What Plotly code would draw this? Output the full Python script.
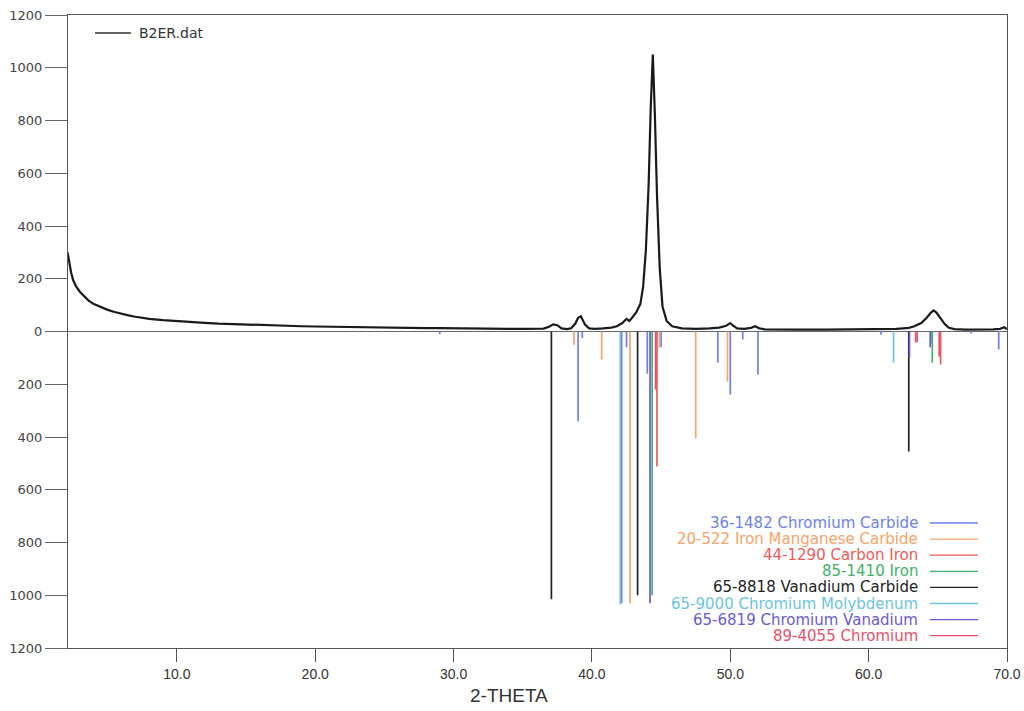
import plotly.graph_objects as go

# Measured scan B2ER.dat (2-theta in degrees, counts)
scan_2theta = [2.1, 2.2, 2.35, 2.5, 2.7, 3.0, 3.3, 3.6, 4.0, 4.5,
               5.0, 5.5, 6.0, 6.5, 7.0, 7.5, 8.0, 9.0, 10.0, 11.0,
               12.0, 13.0, 14.0, 15.0, 16.0, 17.0, 18.0, 19.0, 20.0, 21.0,
               22.0, 23.0, 24.0, 25.0, 26.0, 27.0, 28.0, 29.0, 30.0, 31.0,
               32.0, 33.0, 34.0, 35.0, 36.0, 36.5, 36.9, 37.2, 37.5, 37.8,
               38.2, 38.5, 38.8, 39.0, 39.2, 39.5, 39.8, 40.2, 40.8, 41.4,
               41.8, 42.2, 42.5, 42.7, 42.9, 43.2, 43.5, 43.7, 43.9, 44.1,
               44.25, 44.4, 44.55, 44.7, 44.9, 45.1, 45.4, 45.8, 46.5, 47.5,
               48.5, 49.2, 49.7, 50.0, 50.2, 50.5, 51.0, 51.5, 51.8, 52.1,
               52.5, 53.5, 55.0, 57.0, 59.0, 61.0, 62.0, 62.5, 62.9, 63.3,
               63.8, 64.2, 64.5, 64.7, 64.9, 65.2, 65.5, 65.8, 66.2, 67.0,
               68.0, 69.0, 69.5, 69.8, 70.0]
scan_counts = [300, 262, 225, 195, 172, 150, 132, 118, 104, 92,
               82, 74, 67, 61, 56, 52, 48, 43, 39, 36,
               33, 30, 28, 26, 24, 22, 21, 20, 19, 18,
               17, 17, 16, 15, 15, 14, 13, 13, 12, 12,
               11, 11, 10, 10, 10, 11, 18, 27, 24, 12,
               9, 12, 30, 52, 58, 26, 12, 10, 12, 15,
               20, 32, 48, 40, 52, 72, 105, 170, 310, 560,
               850, 1050, 820, 520, 240, 95, 40, 20, 12, 10,
               12, 15, 22, 32, 22, 12, 10, 14, 20, 12,
               8, 7, 7, 7, 8, 8, 10, 12, 14, 20,
               32, 52, 72, 80, 72, 50, 28, 14, 9, 7,
               7, 8, 10, 16, 9]
assert len(scan_2theta) == len(scan_counts)

# Reference patterns: peak positions (2-theta) and plotted depth
cr_carbide_pos = [29.0, 39.0, 39.3, 42.15, 42.5, 44.0, 45.0, 49.1, 50.0, 50.9, 52.0, 60.9, 64.5, 67.4, 69.4]
cr_carbide_int = [10, 340, 25, 1030, 60, 160, 60, 118, 240, 30, 163, 12, 45, 8, 68]
femn_carbide_pos = [38.7, 40.7, 42.75, 44.9, 47.5, 49.8]
femn_carbide_int = [50, 106, 1030, 60, 405, 190]
carbon_iron_pos = [44.7, 63.4, 65.2]
carbon_iron_int = [512, 42, 125]
iron_pos = [44.35, 64.6]
iron_int = [1000, 118]
vc_pos = [37.07, 43.3, 62.9]
vc_int = [1015, 1000, 455]
crmo_pos = [42.05, 61.8]
crmo_int = [1035, 118]
crv_pos = [44.2, 62.95, 64.45]
crv_int = [1030, 100, 60]
chromium_pos = [44.6, 63.5, 65.1]
chromium_int = [220, 40, 95]

phases = [
    ("36-1482 Chromium Carbide", "#6f7fe8", cr_carbide_pos, cr_carbide_int),
    ("20-522 Iron Manganese Carbide", "#f5a36a", femn_carbide_pos, femn_carbide_int),
    ("44-1290 Carbon Iron", "#f05a5a", carbon_iron_pos, carbon_iron_int),
    ("85-1410 Iron", "#45b06a", iron_pos, iron_int),
    ("65-8818 Vanadium Carbide", "#222222", vc_pos, vc_int),
    ("65-9000 Chromium Molybdenum", "#6cc4e0", crmo_pos, crmo_int),
    ("65-6819 Chromium Vanadium", "#6a5ad0", crv_pos, crv_int),
    ("89-4055 Chromium", "#e8506a", chromium_pos, chromium_int),
]

y_ticks = list(range(-1200, 1201, 200))
y_labels = [str(abs(v)) for v in y_ticks]
x_ticks = [10, 20, 30, 40, 50, 60, 70]
x_labels = ["%.1f" % v for v in x_ticks]

fig = go.Figure()

for name, color, pos, inten in phases:
    xs, ys = [], []
    for p, h in zip(pos, inten):
        xs += [p, p, None]
        ys += [0, -h, None]
    fig.add_trace(go.Scatter(x=xs, y=ys, mode="lines", name=name,
                             line=dict(color=color, width=1.7),
                             showlegend=False, hoverinfo="skip"))

fig.add_trace(go.Scatter(x=scan_2theta, y=scan_counts, mode="lines",
                         name="B2ER.dat", line=dict(color="#1a1a1a", width=2.2),
                         showlegend=False))

narrow = "Liberation Sans Narrow, Liberation Sans, Arial, sans-serif"
wide = "DejaVu Sans, Verdana, sans-serif"

L, R, T, B = 68, 17, 15, 63
PW, PH = 1024 - L - R, 711 - T - B


def px(x):
    return (x - L) / PW


def py(y):
    return 1 - (y - T) / PH


fig.update_layout(
    width=1024, height=711,
    margin=dict(l=L, r=R, t=T, b=B, autoexpand=False),
    paper_bgcolor="white", plot_bgcolor="white",
    showlegend=False,
    xaxis=dict(range=[2.13, 70], tickvals=x_ticks, ticktext=x_labels,
               ticks="outside", ticklen=13, tickwidth=1, tickcolor="#555",
               showline=True, linecolor="#555", linewidth=1, mirror=True,
               showgrid=False, zeroline=False, automargin=False,
               tickfont=dict(family=narrow, size=14, color="#333")),
    yaxis=dict(range=[-1200, 1200], tickvals=y_ticks, ticktext=y_labels,
               ticks="outside", ticklen=22, tickwidth=1, tickcolor="#666",
               showline=True, linecolor="#555", linewidth=1, mirror=True,
               showgrid=False, zeroline=True, zerolinecolor="#666", zerolinewidth=1,
               automargin=False,
               tickfont=dict(family=wide, size=13, color="#444")),
)

# x-axis title
fig.add_annotation(xref="paper", yref="paper", x=px(509), y=py(695),
                   text="2-THETA", showarrow=False, xanchor="center", yanchor="middle",
                   font=dict(family=narrow, size=19, color="#333"))

# Legend for the measured scan (top left)
fig.add_shape(type="line", xref="paper", yref="paper",
              x0=px(95), x1=px(131), y0=py(33), y1=py(33),
              line=dict(color="#333", width=1.5))
fig.add_annotation(xref="paper", yref="paper", x=px(137), y=py(33),
                   text="B2ER.dat", showarrow=False, xanchor="left", yanchor="middle",
                   font=dict(family=wide, size=14, color="#333"))

# Legend for the reference patterns (bottom right)
for i, (name, color, _, _) in enumerate(phases):
    ypx = 523 + i * 16.1
    fig.add_annotation(xref="paper", yref="paper", x=px(920), y=py(ypx),
                       text=name, showarrow=False, xanchor="right", yanchor="middle",
                       font=dict(family=wide, size=15, color=color))
    fig.add_shape(type="line", xref="paper", yref="paper",
                  x0=px(930), x1=px(978), y0=py(ypx), y1=py(ypx),
                  line=dict(color=color, width=1.3))

fig.write_html("out.html")
